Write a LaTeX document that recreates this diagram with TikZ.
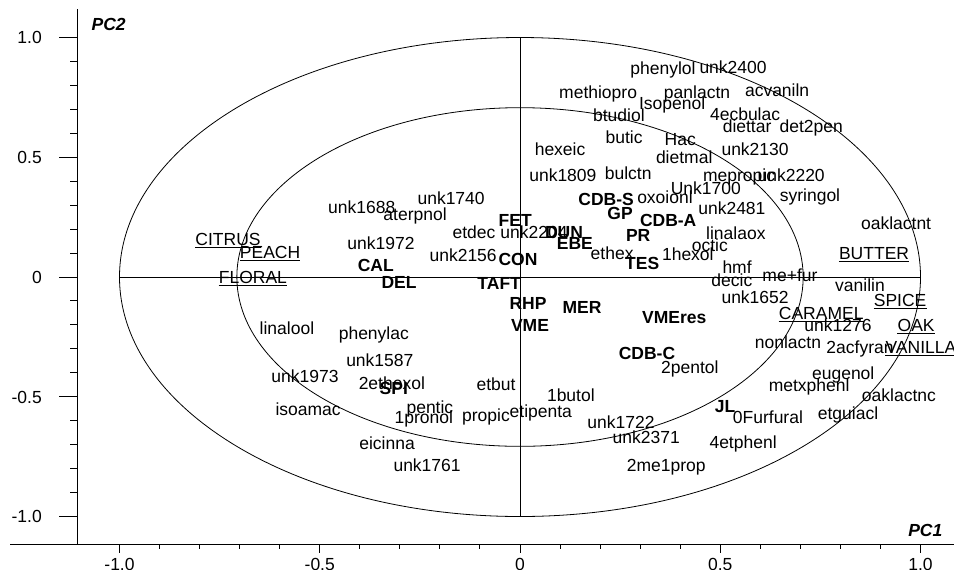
\documentclass[tikz,border=0pt]{standalone}
\usepackage{fontspec}
\setmainfont{Liberation Sans}
\usepackage{tikz}

\begin{document}
\begin{tikzpicture}[x=400.5pt, y=239.5pt,
  lbl/.style={font=\fontsize{17.5}{20}\selectfont, inner sep=0pt, text height=12.6pt, text depth=0pt},
  prod/.style={lbl, font=\fontsize{17.5}{20}\selectfont\bfseries},
  attr/.style={lbl, append after command={[line width=1.2pt]
      ([yshift=-2pt]\tikzlastnode.south west) edge ([yshift=-2pt]\tikzlastnode.south east)}},
  axis/.style={line width=1pt},
  circ/.style={line width=0.8pt}]
\useasboundingbox (-1.2984,-1.2192) rectangle (1.0836,1.1566);

% frame axes
\coordinate (ytop) at (-1.106,1.119);
\coordinate (ybot) at (-1.106,-1.115);
\coordinate (xleft) at (-1.273,-1.115);
\coordinate (xright) at (1.084,-1.115);
\draw[axis] (ytop) -- (ybot);
\draw[axis] (xleft) -- (xright);
\foreach \k in {-10,...,10} {
  \draw[axis] (-1.106,\k/10) -- ++(-7pt,0);
  \draw[axis] (\k/10,-1.115) -- ++(0,-4.5pt);
}
\foreach \k/\t in {-10/-1.0,-5/-0.5,0/0,5/0.5,10/1.0} {
  \draw[axis] (-1.106,\k/10) -- ++(-18pt,0);
  \draw[axis] (\k/10,-1.115) -- ++(0,-8.5pt);
  \node[lbl, anchor=east] (yt\k) at (-1.1935,\k/10) {\t};
  \node[lbl, anchor=north] (xt\k) at (\k/10,-1.171) {\t};
}
\node[lbl, font=\fontsize{17.5}{20}\selectfont\bfseries\itshape] (pc2) at (-1.027,1.056) {PC2};
\node[lbl, font=\fontsize{17.5}{20}\selectfont\bfseries\itshape] (pc1) at (1.012,-1.056) {PC1};

% correlation circles
\draw[circ] (0,0) ellipse (1 and 1);
\draw[circ] (0,0) ellipse (0.707 and 0.707);
\draw[circ] (-1,0) -- (1,0);
\draw[circ] (0,-1) -- (0,1);

% volatiles
\foreach \x/\y/\t [count=\i] in {
  0.357/0.873/phenylol, 0.532/0.877/unk2400, 0.195/0.772/methiopro,
  0.442/0.772/panlactn, 0.642/0.781/acvaniln, 0.380/0.727/Isopenol,
  0.247/0.676/btudiol, 0.562/0.681/4ecbulac, 0.567/0.630/diettar,
  0.727/0.630/det2pen, 0.260/0.585/butic, 0.400/0.576/Hac,
  0.100/0.534/hexeic, 0.587/0.534/unk2130, 0.410/0.501/dietmal,
  0.107/0.426/unk1809, 0.270/0.434/bulctn, 0.547/0.426/mepropic,
  0.677/0.426/unk2220, 0.464/0.372/Unk1700, 0.724/0.342/syringol,
  0.362/0.334/oxoionl, 0.529/0.288/unk2481, 0.939/0.225/oaklactnt,
  -0.395/0.292/unk1688, -0.172/0.330/unk1740, -0.262/0.263/aterpnol,
  -0.115/0.188/etdec, 0.035/0.188/unk2204, -0.347/0.142/unk1972,
  -0.142/0.092/unk2156, 0.230/0.100/ethex, 0.419/0.096/1hexol,
  0.539/0.184/linalaox, 0.474/0.134/octic, 0.542/0.042/hmf,
  0.529/-0.013/decic, 0.674/0.008/me+fur, 0.587/-0.084/unk1652,
  0.849/-0.033/vanilin, 0.794/-0.200/unk1276, 0.669/-0.271/nonlactn,
  0.849/-0.292/2acfyran, 0.424/-0.376/2pentol, 0.807/-0.401/eugenol,
  0.722/-0.451/metxphenl, 0.946/-0.493/oaklactnc, 0.619/-0.585/0Furfural,
  0.819/-0.568/etguiacl, 0.252/-0.605/unk1722, 0.315/-0.668/unk2371,
  0.557/-0.689/4etphenl, 0.365/-0.785/2me1prop, 0.127/-0.493/1butol,
  0.052/-0.559/etipenta, -0.085/-0.576/propic, -0.060/-0.447/etbut,
  -0.225/-0.543/pentic, -0.240/-0.585/1pronol, -0.332/-0.693/eicinna,
  -0.232/-0.785/unk1761, -0.529/-0.551/isoamac, -0.537/-0.413/unk1973,
  -0.320/-0.443/2ethexol, -0.350/-0.347/unk1587, -0.365/-0.234/phenylac,
  -0.582/-0.213/linalool}
  \node[lbl] (c\i) at (\x,\y) {\t};

% wines
\foreach \x/\y/\t [count=\i] in {
  0.215/0.326/CDB-S, 0.250/0.267/GP, 0.370/0.238/CDB-A,
  -0.012/0.238/FET, 0.110/0.188/DUN, -0.005/0.075/CON,
  -0.360/0.050/CAL, -0.302/-0.021/DEL, -0.052/-0.025/TAFT,
  0.137/0.142/EBE, 0.295/0.175/PR, 0.305/0.058/TES,
  0.385/-0.167/VMEres, 0.317/-0.317/CDB-C, 0.512/-0.539/JL,
  -0.315/-0.463/SPI, 0.020/-0.109/RHP, 0.025/-0.200/VME,
  0.155/-0.125/MER}
  \node[prod] (w\i) at (\x,\y) {\t};

% sensory attributes
\foreach \x/\y/\t [count=\i] in {
  -0.729/0.159/CITRUS, -0.624/0.104/PEACH, -0.667/0/FLORAL,
  0.884/0.100/BUTTER, 0.949/-0.096/SPICE, 0.752/-0.150/CARAMEL,
  0.989/-0.200/OAK, 1.001/-0.292/VANILLA}
  \node[attr] (s\i) at (\x,\y) {\t};
\end{tikzpicture}
\end{document}
